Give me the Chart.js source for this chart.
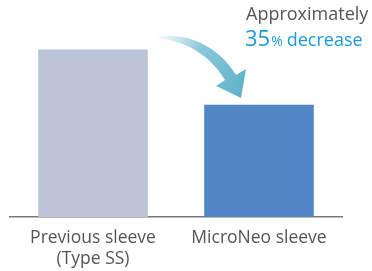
<!DOCTYPE html>
<html>
<head>
<meta charset="utf-8">
<script src="https://cdn.jsdelivr.net/npm/chart.js@4"></script>
<style>
  html, body { margin: 0; padding: 0; background: #fff; }
</style>
</head>
<body>
<canvas id="sleeveChart" width="372" height="271"></canvas>
<script>
const categories = [['Previous sleeve', '(Type SS)'], 'MicroNeo sleeve'];
const values = [100, 67];
const barColors = ['#bdc3d6', '#5285c4'];

// curved arrow + "Approximately 35% decrease" note
const notePlugin = {
    id: 'note',
    afterDatasetsDraw(chart) {
        const ctx = chart.ctx;
        ctx.save();

        const grad = ctx.createLinearGradient(155, 37, 240, 90);
        grad.addColorStop(0, 'rgba(98,181,204,0)');
        grad.addColorStop(0.45, 'rgba(98,181,204,0.75)');
        grad.addColorStop(1, '#62b5cc');
        ctx.fillStyle = grad;
        ctx.beginPath();
        ctx.moveTo(155, 37);
        ctx.bezierCurveTo(185, 31, 218, 45, 236, 75);
        ctx.lineTo(246, 69);
        ctx.lineTo(241, 98);
        ctx.lineTo(216, 86);
        ctx.lineTo(225, 80);
        ctx.bezierCurveTo(210, 55, 185, 40, 155, 38);
        ctx.closePath();
        ctx.fill();

        ctx.textBaseline = 'alphabetic';
        ctx.textAlign = 'left';
        ctx.fillStyle = '#555555';
        ctx.font = '18px "Open Sans"';
        ctx.fillText('Approximately', 246, 20);

        ctx.fillStyle = '#1a9ad7';
        ctx.font = '22px "Open Sans"';
        ctx.fillText('35', 245, 46);
        let x = 245 + ctx.measureText('35').width + 1;
        ctx.font = '14px "Open Sans"';
        ctx.fillText('%', x, 46);
        x += ctx.measureText('%').width + 4;
        ctx.font = '18px "Open Sans"';
        ctx.fillText('decrease', x, 46);
        ctx.restore();
    }
};

new Chart(document.getElementById('sleeveChart'), {
    type: 'bar',
    data: {
        labels: categories,
        datasets: [{
            data: values,
            backgroundColor: barColors,
            borderWidth: 0,
            barPercentage: 0.66,
            categoryPercentage: 1
        }]
    },
    options: {
        responsive: false,
        animation: false,
        layout: { padding: { left: 10, right: 30, top: 16, bottom: -10 } },
        plugins: {
            legend: { display: false },
            tooltip: { enabled: false }
        },
        scales: {
            x: {
                grid: { display: false, drawTicks: false },
                border: { display: true, color: '#777777', width: 1.5 },
                ticks: {
                    color: '#555555',
                    font: { family: 'Open Sans', size: 17.5, lineHeight: 1.2 },
                    padding: 11,
                    maxRotation: 0
                }
            },
            y: {
                display: false,
                min: 0,
                max: 120
            }
        }
    },
    plugins: [notePlugin]
});
</script>
</body>
</html>
